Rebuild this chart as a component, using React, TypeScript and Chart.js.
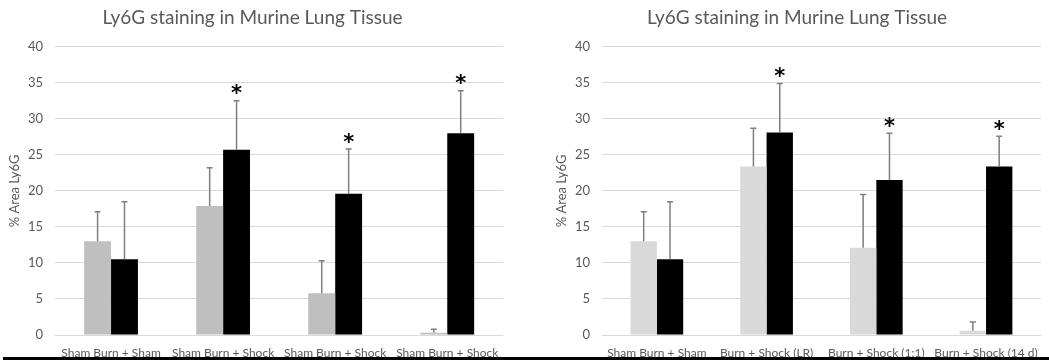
import React, { useEffect, useRef } from "react";
import { Chart, registerables } from "chart.js";

Chart.register(...registerables);

const titleText = "Ly6G staining in Murine Lung Tissue";
const yTitle = "% Area Ly6G";
const yTicks = [0, 5, 10, 15, 20, 25, 30, 35, 40];

const labelsLeft = ["Sham Burn + Sham", "Sham Burn + Shock", "Sham Burn + Shock", "Sham Burn + Shock"];
const grayLeft = [13.0, 17.9, 5.8, 0.3];
const grayErrLeft = [4.1, 5.3, 4.5, 0.5];
const blackLeft = [10.5, 25.7, 19.6, 28.0];
const blackErrLeft = [8.0, 6.8, 6.2, 5.9];
const starsLeft = [false, true, true, true];

const labelsRight = ["Sham Burn + Sham", "Burn + Shock (LR)", "Burn + Shock (1:1)", "Burn + Shock (14 d)"];
const grayRight = [13.0, 23.4, 12.1, 0.6];
const grayErrRight = [4.1, 5.3, 7.4, 1.2];
const blackRight = [10.5, 28.1, 21.5, 23.4];
const blackErrRight = [8.0, 6.8, 6.5, 4.2];
const starsRight = [false, true, true, true];

const FONT = "Lato, 'Open Sans', sans-serif";
const TEXT = "#595959";

type Props = {
  labels: string[];
  gray: number[];
  grayErr: number[];
  black: number[];
  blackErr: number[];
  stars: boolean[];
  grayColor: string;
  width: number;
  padRight: number;
};

const errorBarPlugin = {
  id: "errorBars",
  afterDatasetsDraw(chart: any) {
    const ctx = chart.ctx;
    const yScale = chart.scales.y;
    chart.data.datasets.forEach((ds: any, di: number) => {
      const meta = chart.getDatasetMeta(di);
      meta.data.forEach((el: any, i: number) => {
        const v = ds.data[i];
        const e = ds.errors[i];
        const yTop = yScale.getPixelForValue(v);
        const yErr = yScale.getPixelForValue(v + e);
        ctx.save();
        ctx.strokeStyle = "#7f7f7f";
        ctx.lineWidth = 1.5;
        ctx.beginPath();
        ctx.moveTo(el.x, yTop);
        ctx.lineTo(el.x, yErr);
        ctx.moveTo(el.x - 3, yErr);
        ctx.lineTo(el.x + 3, yErr);
        ctx.stroke();
        if (ds.stars && ds.stars[i]) {
          ctx.fillStyle = "#000";
          ctx.font = "bold 21px 'DejaVu Sans', sans-serif";
          ctx.textAlign = "center";
          ctx.textBaseline = "middle";
          ctx.fillText("*", el.x, yErr - 6);
        }
        ctx.restore();
      });
    });
  },
};

function BarPanel(p: Props) {
  const ref = useRef<HTMLCanvasElement>(null);
  useEffect(() => {
    if (!ref.current) return;
    const chart = new Chart(ref.current, {
      type: "bar",
      data: {
        labels: p.labels,
        datasets: [
          {
            data: p.gray,
            errors: p.grayErr,
            stars: [false, false, false, false],
            backgroundColor: p.grayColor,
            borderWidth: 0,
            barPercentage: 1,
            categoryPercentage: 0.48,
          } as any,
          {
            data: p.black,
            errors: p.blackErr,
            stars: p.stars,
            backgroundColor: "#000000",
            borderWidth: 0,
            barPercentage: 1,
            categoryPercentage: 0.48,
          } as any,
        ],
      },
      options: {
        responsive: false,
        animation: false,
        devicePixelRatio: 1,
        layout: { padding: { left: 0, right: p.padRight, top: 0, bottom: 0 } },
        plugins: {
          legend: { display: false },
          tooltip: { enabled: false },
          title: {
            display: true,
            text: titleText,
            color: TEXT,
            font: { family: FONT, size: 19, weight: "normal" },
            padding: { top: 6, bottom: 18 },
          },
        },
        scales: {
          x: {
            grid: { display: false, drawTicks: false },
            border: { display: false },
            ticks: {
              color: TEXT,
              font: { family: FONT, size: 12 },
              maxRotation: 0,
              autoSkip: false,
              padding: 11,
            },
            afterFit: (s: any) => {
              s.height = 25;
            },
          },
          y: {
            min: 0,
            max: 40,
            afterBuildTicks: (s: any) => {
              s.ticks = yTicks.map((v) => ({ value: v }));
            },
            grid: { color: "#d9d9d9", lineWidth: 1, drawTicks: false },
            border: { display: false },
            ticks: {
              color: TEXT,
              font: { family: FONT, size: 13 },
              padding: 12,
            },
            title: {
              display: true,
              text: yTitle,
              color: TEXT,
              font: { family: FONT, size: 13 },
              padding: { top: 7, bottom: 0 },
            },
            afterFit: (s: any) => {
              s.width = 55;
            },
          },
        },
      },
      plugins: [errorBarPlugin],
    } as any);
    return () => chart.destroy();
  }, []);
  return <canvas ref={ref} width={p.width} height={360} style={{ display: "block" }} />;
}

export default function App() {
  return (
    <div
      style={{
        position: "absolute",
        left: 0,
        top: 0,
        width: 1049,
        height: 360,
        background: "#fff",
        overflow: "hidden",
      }}
    >
      <div style={{ position: "absolute", left: 0, top: 0 }}>
        <BarPanel
          labels={labelsLeft}
          gray={grayLeft}
          grayErr={grayErrLeft}
          black={blackLeft}
          blackErr={blackErrLeft}
          stars={starsLeft}
          grayColor="#bfbfbf"
          width={510}
          padRight={5}
        />
      </div>
      <div style={{ position: "absolute", left: 547, top: 0 }}>
        <BarPanel
          labels={labelsRight}
          gray={grayRight}
          grayErr={grayErrRight}
          black={blackRight}
          blackErr={blackErrRight}
          stars={starsRight}
          grayColor="#d9d9d9"
          width={502}
          padRight={2}
        />
      </div>
      <div
        style={{
          position: "absolute",
          left: 3,
          top: 357,
          width: 1046,
          height: 3,
          background: "#000",
        }}
      />
    </div>
  );
}
